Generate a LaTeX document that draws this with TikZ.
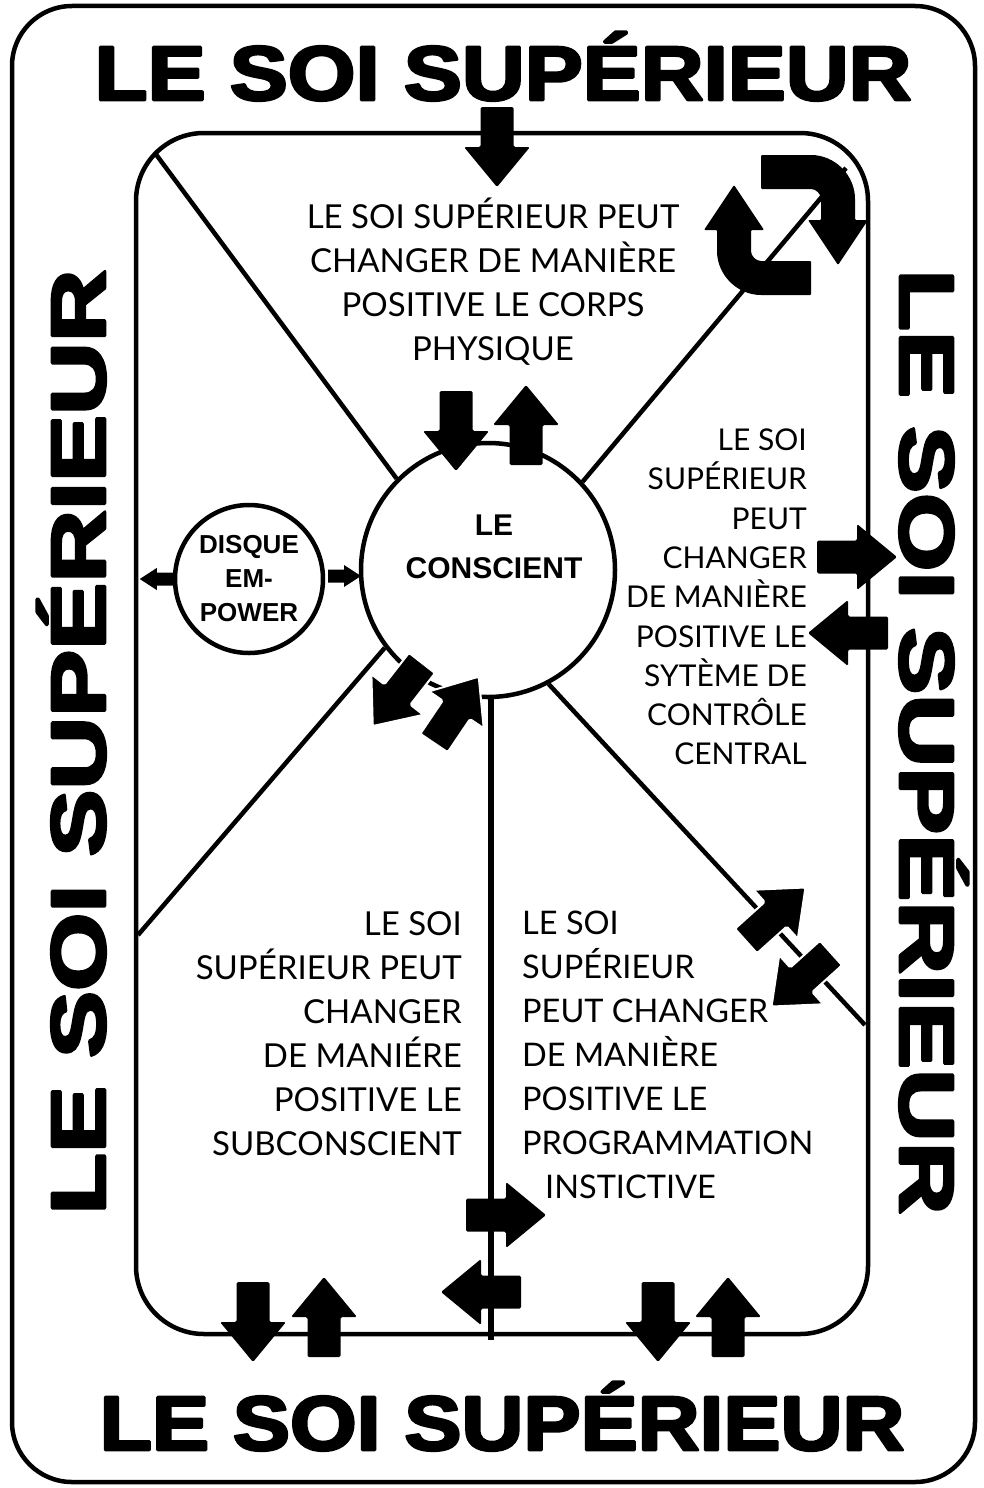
\documentclass[tikz,border=0pt]{standalone}
\usepackage{fontspec}
\setmainfont{Lato}
\newfontfamily\titlefont{Liberation Sans}
\newfontfamily\heavyfont{Liberation Sans}[UprightFeatures={FakeBold=3.5}, BoldFeatures={FakeBold=3.5}]
\usetikzlibrary{calc}
\tikzset{
  frame/.style={draw=black, line width=4.5pt},
  divider/.style={draw=black, line width=4.5pt},
  bubble/.style={circle, draw=black, fill=white, line width=4.5pt, inner sep=0pt},
  txt/.style={font=\fontsize{33}{44}\selectfont, inner sep=0pt},
  txtr/.style={font=\fontsize{30}{39.3}\selectfont, inner sep=0pt},
  title/.style={font=\heavyfont\bfseries\fontsize{77}{77}\selectfont, inner sep=0pt},
  boldtxt/.style={font=\titlefont\bfseries\fontsize{26}{34}\selectfont, inner sep=0pt},
  bigarrow/.pic={\fill[black, rounded corners=1.5pt] (0,-16.5) -- (40,-16.5) -- (40,-33) -- (80,0) -- (40,33) -- (40,16.5) -- (0,16.5) -- cycle;},
  outarrow/.pic={\filldraw[fill=black, draw=white, line width=2pt, rounded corners=1.5pt] (0,-16.5) -- (40,-16.5) -- (40,-33) -- (80,0) -- (40,33) -- (40,16.5) -- (0,16.5) -- cycle;},
  smallarrow/.pic={\fill[black] (0,-6.5) -- (16,-6.5) -- (16,-11) -- (33,0) -- (16,11) -- (16,6.5) -- (0,6.5) -- cycle;},
  halfturn/.pic={\fill[black, rounded corners=1pt] (-25,-70) -- (24,-70) .. controls (48.9,-70) and (69,-49.9) .. (69,-25) -- (69,-5) -- (82,-5) -- (52,40) -- (22,-5) -- (35,-5) -- (35,-25) .. controls (35,-31.1) and (30.1,-36) .. (24,-36) -- (-25,-36) -- cycle;},
  turnpair/.pic={\pic {halfturn}; \pic[rotate=180] {halfturn};}
}
\begin{document}
\begin{tikzpicture}[x=1pt, y=-1pt, line join=round]
\useasboundingbox (0,0) rectangle (983,1488);
\fill[white] (0,0) rectangle (983,1488);

% frames
\draw[frame, rounded corners=60pt] (12,6) rectangle (975,1482);
\draw[frame, rounded corners=68pt] (136,133) rectangle (868,1334);

% circles
\node[bubble, minimum size=254pt] (consc) at (488,570) {};
\node[bubble, minimum size=148pt, boldtxt, align=center] (disque) at (249,579) {DISQUE\\EM-\\POWER};

% dividers
\coordinate (ctl) at (155,153);
\coordinate (ctr) at (846,168);
\coordinate (cbl) at (138,935);
\coordinate (cbr) at (865,1025);
\coordinate (vb) at (491,1340);
\draw[divider] (ctl) -- (consc.135);
\draw[divider] (ctr) -- (consc.43);
\draw[divider] (cbl) -- (consc.217);
\draw[divider] (cbr) -- (consc.298);
\draw[divider, line width=6pt] (vb |- consc.south) -- (vb);

\node[boldtxt, align=center, font=\titlefont\bfseries\fontsize{30}{43}\selectfont] (ctext) at (494,547) {LE\\CONSCIENT};

% titles
\node[title, anchor=base] (ttop) at (503,100) {\scalebox{1.13}[1]{LE SOI SUPÉRIEUR}};
\node[title, anchor=base] (tbot) at (502,1450) {\scalebox{1.113}[1]{LE SOI SUPÉRIEUR}};
\node[title, anchor=base, rotate=90] (tleft) at (105,742) {\scalebox{1.307}[1]{LE SOI SUPÉRIEUR}};
\node[title, anchor=base, rotate=-90] (tright) at (900,742) {\scalebox{1.307}[1]{LE SOI SUPÉRIEUR}};

% text blocks
\node[txt, align=center] (tcorps) at (493,282) {LE SOI SUPÉRIEUR PEUT\\CHANGER DE MANIÈRE\\POSITIVE LE CORPS\\PHYSIQUE};
\node[txtr, align=right, anchor=east] (tscc) at (807,597) {LE SOI\\SUPÉRIEUR\\PEUT\\CHANGER\\DE MANIÈRE\\POSITIVE LE\\SYTÈME DE\\CONTRÔLE\\CENTRAL};
\node[txt, align=right, anchor=east] (tsub) at (462,1034) {LE SOI\\SUPÉRIEUR PEUT\\CHANGER\\DE MANIÉRE\\POSITIVE LE\\SUBCONSCIENT};
\node[txt, align=left, anchor=west, font=\fontsize{32.5}{44}\selectfont] (tprog) at (522,1055) {LE SOI\\SUPÉRIEUR\\PEUT CHANGER\\DE MANIÈRE\\POSITIVE LE\\PROGRAMMATION\\\hspace*{23pt}INSTICTIVE};

% block arrows
\pic[rotate=-90] at (497,107) {bigarrow};
\pic[rotate=-90] at (456,391) {bigarrow};
\pic[rotate=90] at (526,465) {bigarrow};
\pic[rotate=0] at (817,557) {bigarrow};
\pic[rotate=180] at (888,633) {bigarrow};
\pic[rotate=42] at (746,941) {outarrow};
\pic[rotate=222] at (831,953) {outarrow};
\pic[rotate=232] at (422,663) {outarrow};
\pic[rotate=56] at (434,743) {outarrow};
\pic[rotate=0] at (466,1215) {bigarrow};
\pic[rotate=180] at (521,1292) {bigarrow};
\pic[rotate=-90] at (253,1282) {bigarrow};
\pic[rotate=90] at (324,1357) {bigarrow};
\pic[rotate=-90] at (658,1282) {bigarrow};
\pic[rotate=90] at (728,1357) {bigarrow};
\pic[rotate=180] at (disque.west) {smallarrow};
\pic[rotate=0] at (328,576) {smallarrow};

% turning arrows
\pic at (786,225) {turnpair};
\end{tikzpicture}
\end{document}
